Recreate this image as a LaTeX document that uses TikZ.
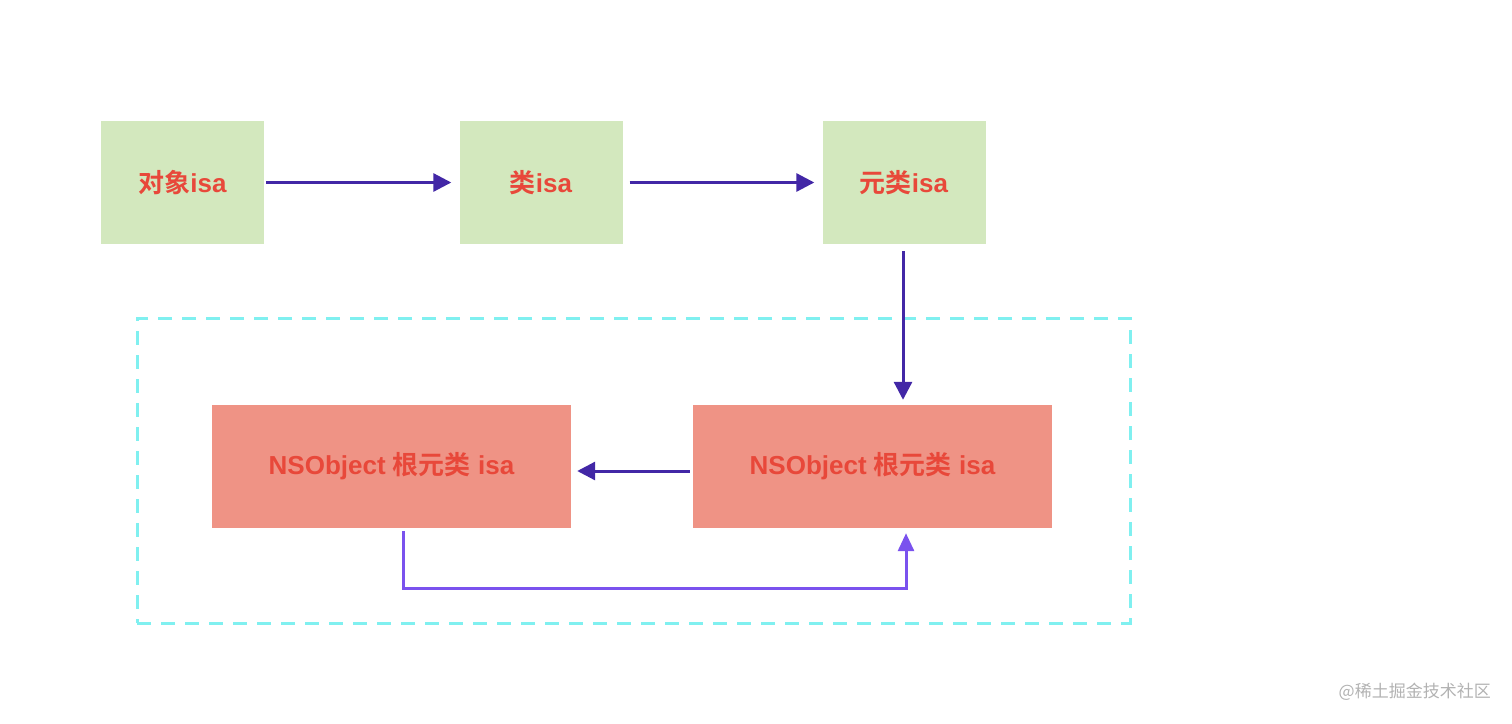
\documentclass[tikz,border=0pt]{standalone}
\usepackage{fontspec}
\setmainfont{Liberation Sans}
\newfontfamily\cjk{Noto Sans CJK SC}[BoldFont={Noto Sans CJK SC Bold}]
\usetikzlibrary{arrows.meta}
\definecolor{gbox}{HTML}{D3E8BE}
\definecolor{rbox}{HTML}{EF9385}
\definecolor{txt}{HTML}{E8483A}
\definecolor{darr}{HTML}{4227A6}
\definecolor{larr}{HTML}{7A52EE}
\definecolor{dash}{HTML}{80F0F0}
\begin{document}
\begin{tikzpicture}[x=1pt,y=-1pt,
  gnode/.style={fill=gbox,minimum width=163pt,minimum height=123pt,inner sep=0pt,text=txt,font=\fontsize{26}{30}\selectfont\bfseries},
  rnode/.style={fill=rbox,minimum width=359pt,minimum height=123pt,inner sep=0pt,text=txt,font=\fontsize{26}{30}\selectfont\bfseries},
  darrow/.style={draw=darr,line width=3pt,-{Triangle[length=18pt,width=18pt]}},
  larrow/.style={draw=larr,line width=3pt,-{Triangle[length=18pt,width=16pt]}}]
\useasboundingbox (0,0) rectangle (1512,723);
\node[draw=dash,line width=3pt,dash pattern=on 14pt off 10pt,minimum width=993pt,minimum height=305pt,inner sep=0pt] (grp) at (633.5,470.5) {};
\node[gnode] (a) at (182.5,182.5) {{\cjk 对象}isa};
\node[gnode] (b) at (541,182.5) {{\cjk 类}isa};
\node[gnode] (c) at (904,182.5) {{\cjk 元类}isa};
\node[rnode] (l) at (391.5,466.5) {NSObject {\cjk 根元类} isa};
\node[rnode] (r) at (872.5,466.5) {NSObject {\cjk 根元类} isa};
\draw[darrow] ([xshift=2pt]a.east) -- ([xshift=-8pt]b.west);
\draw[darrow] ([xshift=7pt]b.east) -- ([xshift=-8pt]c.west);
\draw[darrow] ([xshift=-1pt,yshift=-7pt]c.south) -- ([xshift=30.5pt,yshift=5pt]r.north);
\draw[darrow] ([xshift=-3pt,yshift=-4.5pt]r.west) -- ([xshift=6pt,yshift=-4.5pt]l.east);
\coordinate (p1) at ([xshift=11.5pt,yshift=-60pt]l.south);
\coordinate (p2) at ([xshift=33.5pt,yshift=-60pt]r.south);
\draw[larrow] ([xshift=11.5pt,yshift=-3pt]l.south) -- (p1) -- (p2) -- ([xshift=33.5pt,yshift=-5pt]r.south);
\node[text=black!30,font=\cjk\fontsize{17}{20}\selectfont,anchor=east,inner sep=0pt] (wm) at (1491,692) {@稀土掘金技术社区};
\end{tikzpicture}
\end{document}
